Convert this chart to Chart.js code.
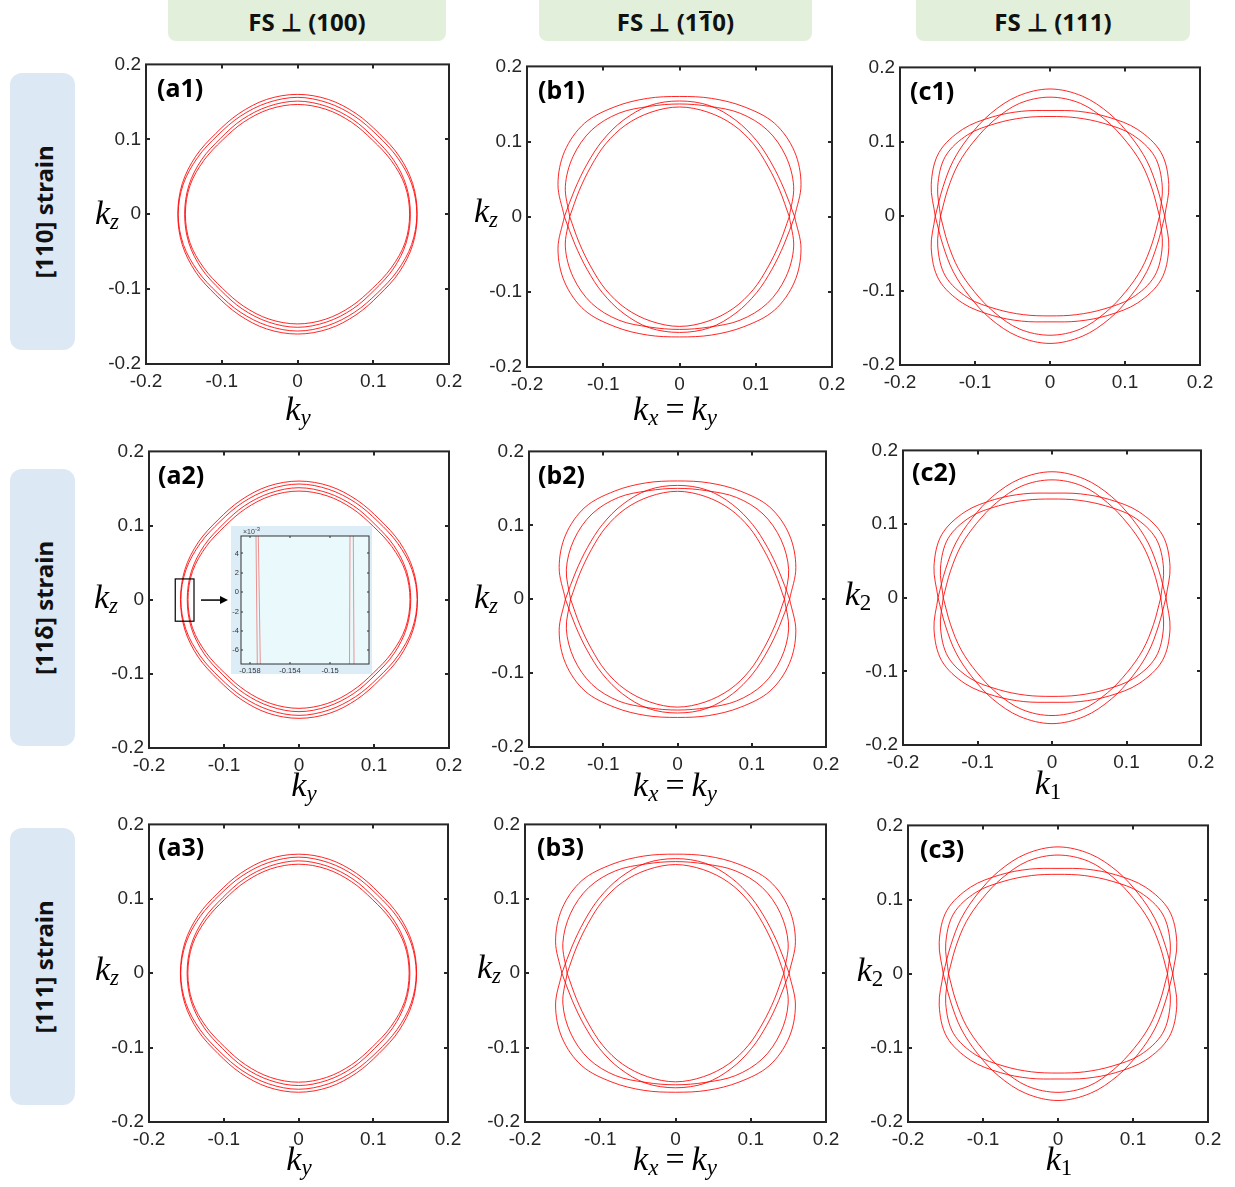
<!DOCTYPE html>
<html>
<head>
<meta charset="utf-8">
<script src="https://cdn.jsdelivr.net/npm/chart.js@4.4.0/dist/chart.umd.min.js"></script>
<style>
  body { margin: 0; background: #fff; }
  #page { position: relative; width: 1235px; height: 1187px; overflow: hidden; font-family: "Noto Sans", sans-serif; }
  canvas { position: absolute; }
  .hdr { position: absolute; top: -10px; height: 51px; padding-top: 11px; box-sizing: border-box; background: #e2efda; border-radius: 8px;
         display: flex; align-items: center; justify-content: center; font-weight: bold; font-size: 24px; color: #111; }
  .bar { display: inline-block; line-height: 0.74; border-top: 2px solid #111; }
  .row { position: absolute; left: 10px; width: 65px; background: #dde8f5; border-radius: 12px; }
  .row span { position: absolute; left: 50%; top: 50%; transform: translate(-50%, -50%) rotate(-90deg); white-space: nowrap;
              font-weight: bold; font-size: 24px; color: #111; }
  .plab { position: absolute; font-weight: bold; font-size: 25px; line-height: 1; color: #000; z-index: 3; }
  .ax { position: absolute; font-family: "Liberation Serif", serif; font-size: 34px; line-height: 1; transform: translate(-50%, -50%);
        white-space: nowrap; color: #000; z-index: 3; }
  .ax sub { font-size: 23px; vertical-align: -5px; font-style: italic; }
  .ax sub.up { font-style: normal; }
  .ax .eq { margin: 0 7px; }
  #inset-exp { position: absolute; left: 243px; top: 526px; font-family: "Liberation Sans", sans-serif; font-size: 7px; color: #444; z-index: 3; }
</style>
</head>
<body>
<div id="page">
  <div class="hdr" style="left:168px;width:278px">FS ⊥ (100)</div>
  <div class="hdr" style="left:539px;width:273px">FS ⊥ (1<span class="bar">1</span>0)</div>
  <div class="hdr" style="left:916px;width:274px">FS ⊥ (111)</div>

  <div class="row" style="top:73px;height:277px"><span>[110] strain</span></div>
  <div class="row" style="top:469px;height:277px"><span>[11δ] strain</span></div>
  <div class="row" style="top:828px;height:277px"><span>[111] strain</span></div>

  <div class="ax" style="left:298px;top:410px"><i>k</i><sub>y</sub></div>
  <div class="ax" style="left:107px;top:214px"><i>k</i><sub>z</sub></div>
  <div class="ax" style="left:675px;top:410px"><i>k</i><sub>x</sub><span class="eq">=</span><i>k</i><sub>y</sub></div>
  <div class="ax" style="left:486px;top:212px"><i>k</i><sub>z</sub></div>

  <div class="ax" style="left:304px;top:786px"><i>k</i><sub>y</sub></div>
  <div class="ax" style="left:106px;top:598px"><i>k</i><sub>z</sub></div>
  <div class="ax" style="left:675px;top:786px"><i>k</i><sub>x</sub><span class="eq">=</span><i>k</i><sub>y</sub></div>
  <div class="ax" style="left:486px;top:598px"><i>k</i><sub>z</sub></div>
  <div class="ax" style="left:1048px;top:784px"><i>k</i><sub class="up">1</sub></div>
  <div class="ax" style="left:858px;top:595px"><i>k</i><sub class="up">2</sub></div>

  <div class="ax" style="left:299px;top:1160px"><i>k</i><sub>y</sub></div>
  <div class="ax" style="left:107px;top:970px"><i>k</i><sub>z</sub></div>
  <div class="ax" style="left:675px;top:1160px"><i>k</i><sub>x</sub><span class="eq">=</span><i>k</i><sub>y</sub></div>
  <div class="ax" style="left:489px;top:968px"><i>k</i><sub>z</sub></div>
  <div class="ax" style="left:1059px;top:1160px"><i>k</i><sub class="up">1</sub></div>
  <div class="ax" style="left:870px;top:971px"><i>k</i><sub class="up">2</sub></div>

  <div id="inset-exp">×10<sup>-3</sup></div>
</div>
<script>
// ---- data ----
const TICKS = [-0.2, -0.1, 0, 0.1, 0.2];
const ANGLES_DEG = [0, 15, 30, 45, 60, 75, 90, 105, 120, 135, 150, 165, 180, 195, 210, 225, 240, 255, 270, 285, 300, 315, 330, 345];

// FS ⊥ (100): contour radius at each angle
const A_R1 = [0.158,0.1575,0.155,0.1525,0.155,0.1585,0.160,0.1585,0.155,0.1525,0.155,0.1575,0.158,0.1575,0.155,0.1525,0.155,0.1585,0.160,0.1585,0.155,0.1525,0.155,0.1575];
const A_R2 = [0.1575,0.156,0.152,0.149,0.151,0.154,0.156,0.154,0.151,0.149,0.152,0.156,0.1575,0.156,0.152,0.149,0.151,0.154,0.156,0.154,0.151,0.149,0.152,0.156];
const A_R3 = [0.149,0.1485,0.146,0.1435,0.146,0.149,0.151,0.149,0.146,0.1435,0.146,0.1485,0.149,0.1485,0.146,0.1435,0.146,0.149,0.151,0.149,0.146,0.1435,0.146,0.1485];
const A_R4 = [0.148,0.147,0.143,0.140,0.142,0.145,0.1465,0.145,0.142,0.140,0.143,0.147,0.148,0.147,0.143,0.140,0.142,0.145,0.1465,0.145,0.142,0.140,0.143,0.147];

// FS ⊥ (1-10)
const B_W1 = [0.151,0.165,0.174,0.176,0.169,0.163,0.160,0.163,0.169,0.176,0.174,0.165,0.151,0.165,0.174,0.176,0.169,0.163,0.160,0.163,0.169,0.176,0.174,0.165];
const B_T1 = [0.151,0.142,0.140,0.143,0.148,0.153,0.154,0.153,0.148,0.143,0.140,0.142,0.151,0.142,0.140,0.143,0.148,0.153,0.154,0.153,0.148,0.143,0.140,0.142];
const B_W2 = [0.144,0.155,0.161,0.163,0.159,0.152,0.150,0.152,0.159,0.163,0.161,0.155,0.144,0.155,0.161,0.163,0.159,0.152,0.150,0.152,0.159,0.163,0.161,0.155];
const B_T2 = [0.144,0.136,0.134,0.137,0.141,0.144,0.146,0.144,0.141,0.137,0.134,0.136,0.144,0.136,0.134,0.137,0.141,0.144,0.146,0.144,0.141,0.137,0.134,0.136];

// FS ⊥ (111)
const C_P1 = [0.153,0.148,0.149,0.152,0.159,0.167,0.171,0.167,0.159,0.152,0.149,0.148,0.153,0.148,0.149,0.152,0.159,0.167,0.171,0.167,0.159,0.152,0.149,0.148];
const C_Q1 = [0.153,0.164,0.171,0.165,0.154,0.146,0.142,0.146,0.154,0.165,0.171,0.164,0.153,0.164,0.171,0.165,0.154,0.146,0.142,0.146,0.154,0.165,0.171,0.164];
const C_P2 = [0.146,0.141,0.141,0.143,0.149,0.157,0.160,0.157,0.149,0.143,0.141,0.141,0.146,0.141,0.141,0.143,0.149,0.157,0.160,0.157,0.149,0.143,0.141,0.141];
const C_Q2 = [0.146,0.155,0.161,0.155,0.144,0.137,0.134,0.137,0.144,0.155,0.161,0.155,0.146,0.155,0.161,0.155,0.144,0.137,0.134,0.137,0.144,0.155,0.161,0.155];

// inset of (a2)
const INSET_XTICKS = [-0.158, -0.154, -0.15];
const INSET_YTICKS = [-0.006, -0.004, -0.002, 0, 0.002, 0.004];
const INSET_X_RANGE = [-0.1589, -0.1461];
const INSET_Y_RANGE = [-0.0074, 0.0058];
const INSET_TOP_X = [-0.15740, -0.15717, -0.14800, -0.14767];
const INSET_BOT_X = [-0.15727, -0.15697, -0.14805, -0.14760];
const ZOOM_BOX = [-0.165, -0.140, -0.029, 0.028]; // x0, x1, y0, y1

// ---- layout ----
const COL_A = [A_R1, A_R2, A_R3, A_R4];
const COL_B = [B_W1, B_T1, B_W2, B_T2];
const COL_C = [C_P1, C_Q1, C_P2, C_Q2];
const PANELS = [
  { curves: COL_A, smooth: true, l: 146, t: 62,  r: 449,  b: 364, lab: '(a1)', lx: 157, ly: 75 },
  { curves: COL_B, l: 527, t: 64,  r: 832,  b: 367, lab: '(b1)', lx: 538, ly: 77 },
  { curves: COL_C, l: 900, t: 65,  r: 1200, b: 365, lab: '(c1)', lx: 910, ly: 78 },
  { curves: COL_A, smooth: true, l: 149, t: 449, r: 449,  b: 748, lab: '(a2)', lx: 158, ly: 462, zoom: true },
  { curves: COL_B, l: 529, t: 449, r: 826,  b: 747, lab: '(b2)', lx: 538, ly: 462 },
  { curves: COL_C, l: 903, t: 448, r: 1201, b: 745, lab: '(c2)', lx: 912, ly: 459 },
  { curves: COL_A, smooth: true, l: 149, t: 822, r: 448,  b: 1122, lab: '(a3)', lx: 158, ly: 834 },
  { curves: COL_B, l: 525, t: 822, r: 826,  b: 1122, lab: '(b3)', lx: 537, ly: 834 },
  { curves: COL_C, l: 908, t: 823, r: 1208, b: 1122, lab: '(c3)', lx: 920, ly: 836 },
];
const PAD = { l: 64, t: 14, r: 26, b: 40 };
const INK = '#262626';
const CURVE_COLOR = 'rgba(255,0,0,0.85)';
const TICK_LEN = 4;

const page = document.getElementById('page');

function fmt(v) {
  const r = Math.round(v * 10) / 10;
  return r === 0 ? '0' : String(r);
}

// polar samples -> points; indices may run past either end of the angle list
function polarPoints(rs, from, to) {
  const n = rs.length;
  const pts = [];
  for (let i = from; i <= to; i++) {
    const k = ((i % n) + n) % n;
    const a = ANGLES_DEG[k] * Math.PI / 180;
    pts.push({ x: rs[k] * Math.cos(a), y: rs[k] * Math.sin(a) });
  }
  return pts;
}

const framePlugin = {
  id: 'frame',
  afterDatasetsDraw(chart, args, opts) {
    const { ctx, chartArea: ca, scales } = chart;
    const len = opts.len || TICK_LEN;
    ctx.save();
    ctx.strokeStyle = opts.color || INK;
    ctx.lineWidth = opts.width || 2;
    ctx.strokeRect(ca.left, ca.top, ca.right - ca.left, ca.bottom - ca.top);
    ctx.beginPath();
    scales.x.ticks.forEach((t) => {
      const px = Math.round(scales.x.getPixelForValue(t.value));
      if (px <= ca.left + 1 || px >= ca.right - 1) return;
      ctx.moveTo(px, ca.bottom); ctx.lineTo(px, ca.bottom - len);
      ctx.moveTo(px, ca.top); ctx.lineTo(px, ca.top + len);
    });
    scales.y.ticks.forEach((t) => {
      const py = Math.round(scales.y.getPixelForValue(t.value));
      if (py <= ca.top + 1 || py >= ca.bottom - 1) return;
      ctx.moveTo(ca.left, py); ctx.lineTo(ca.left + len, py);
      ctx.moveTo(ca.right, py); ctx.lineTo(ca.right - len, py);
    });
    ctx.stroke();
    ctx.restore();
  },
};

const zoomBoxPlugin = {
  id: 'zoomBox',
  afterDatasetsDraw(chart) {
    const { ctx, scales: { x, y } } = chart;
    const x0 = x.getPixelForValue(ZOOM_BOX[0]), x1 = x.getPixelForValue(ZOOM_BOX[1]);
    const y0 = y.getPixelForValue(ZOOM_BOX[2]), y1 = y.getPixelForValue(ZOOM_BOX[3]);
    const yc = (y0 + y1) / 2;
    ctx.save();
    ctx.strokeStyle = '#000';
    ctx.lineWidth = 1.2;
    ctx.strokeRect(x0, y1, x1 - x0, y0 - y1);
    ctx.beginPath();
    ctx.moveTo(x1 + 7, yc); ctx.lineTo(x1 + 28, yc);
    ctx.lineWidth = 1.5;
    ctx.stroke();
    ctx.beginPath();
    ctx.moveTo(x1 + 34, yc); ctx.lineTo(x1 + 26, yc - 4); ctx.lineTo(x1 + 26, yc + 4); ctx.closePath();
    ctx.fillStyle = '#000';
    ctx.fill();
    ctx.restore();
  },
};

function axisOpts(isX) {
  return {
    type: 'linear',
    min: -0.2,
    max: 0.2,
    afterBuildTicks: (s) => { s.ticks = TICKS.map((v) => ({ value: v })); },
    afterFit: (s) => { if (isX) s.height = PAD.b; else s.width = PAD.l; },
    grid: { display: false, drawTicks: false },
    border: { display: false },
    ticks: {
      autoSkip: false, maxRotation: 0, padding: isX ? 6 : 5,
      color: INK, font: { family: 'Liberation Sans', size: 19 },
      callback: fmt,
    },
  };
}

function curveDataset(data, hideEnds) {
  const ds = { data, showLine: true, pointRadius: 0, borderWidth: 1, borderColor: CURVE_COLOR, tension: 0.34, fill: false };
  if (hideEnds) {
    // the first and last segments only exist to give the loop's join proper neighbours
    const last = data.length - 1;
    ds.segment = { borderColor: (c) => (c.p0DataIndex === 0 || c.p1DataIndex === last ? 'rgba(0,0,0,0)' : undefined) };
  }
  return ds;
}

function makePanel(p) {
  const w = p.r - p.l + PAD.l + PAD.r;
  const h = p.b - p.t + PAD.t + PAD.b;
  const canvas = document.createElement('canvas');
  canvas.width = w; canvas.height = h;
  canvas.style.left = (p.l - PAD.l) + 'px';
  canvas.style.top = (p.t - PAD.t) + 'px';
  canvas.style.width = w + 'px';
  canvas.style.height = h + 'px';
  page.appendChild(canvas);

  const datasets = [];
  p.curves.forEach((rs) => {
    if (p.smooth) {
      datasets.push(curveDataset(polarPoints(rs, -1, rs.length + 1), true));
    } else {
      // the two halves meet at the band-touching points on the horizontal axis
      datasets.push(curveDataset(polarPoints(rs, 0, 12), false));
      datasets.push(curveDataset(polarPoints(rs, 12, 24), false));
    }
  });

  new Chart(canvas, {
    type: 'scatter',
    data: { datasets },
    options: {
      responsive: false, animation: false, events: [],
      layout: { padding: { top: PAD.t, right: PAD.r, left: 0, bottom: 0 } },
      plugins: { legend: { display: false }, tooltip: { enabled: false }, frame: {} },
      scales: { x: axisOpts(true), y: axisOpts(false) },
    },
    plugins: p.zoom ? [framePlugin, zoomBoxPlugin] : [framePlugin],
  });

  const lab = document.createElement('div');
  lab.className = 'plab';
  lab.textContent = p.lab;
  lab.style.left = p.lx + 'px';
  lab.style.top = p.ly + 'px';
  page.appendChild(lab);
}

PANELS.forEach(makePanel);

// inset in (a2)
(function makeInset() {
  const box = { left: 231, top: 526, w: 141, h: 148 };
  const pad = { l: 10, t: 10, r: 3, b: 10 };
  const canvas = document.createElement('canvas');
  canvas.width = box.w; canvas.height = box.h;
  Object.assign(canvas.style, { left: box.left + 'px', top: box.top + 'px', width: box.w + 'px', height: box.h + 'px', background: '#dcedf8', zIndex: 2 });
  page.appendChild(canvas);

  const datasets = INSET_TOP_X.map((xt, i) => ({
    data: [{ x: xt, y: INSET_Y_RANGE[1] }, { x: INSET_BOT_X[i], y: INSET_Y_RANGE[0] }],
    showLine: true, pointRadius: 0, borderWidth: 1, borderColor: 'rgba(235,110,110,0.75)',
  }));

  const small = { family: 'Liberation Sans', size: 7.5 };
  new Chart(canvas, {
    type: 'scatter',
    data: { datasets },
    options: {
      responsive: false, animation: false, events: [],
      layout: { padding: { top: pad.t, right: pad.r, left: 0, bottom: 0 } },
      plugins: { legend: { display: false }, tooltip: { enabled: false }, frame: { width: 1, len: 2, color: '#333' } },
      scales: {
        x: {
          type: 'linear', min: INSET_X_RANGE[0], max: INSET_X_RANGE[1],
          afterBuildTicks: (s) => { s.ticks = INSET_XTICKS.map((v) => ({ value: v })); },
          afterFit: (s) => { s.height = pad.b; },
          grid: { display: false, drawTicks: false }, border: { display: false },
          ticks: { autoSkip: false, maxRotation: 0, padding: 2, color: '#333', font: small, callback: (v) => String(v) },
        },
        y: {
          type: 'linear', min: INSET_Y_RANGE[0], max: INSET_Y_RANGE[1],
          afterBuildTicks: (s) => { s.ticks = INSET_YTICKS.map((v) => ({ value: v })); },
          afterFit: (s) => { s.width = pad.l; },
          grid: { display: false, drawTicks: false }, border: { display: false },
          ticks: { autoSkip: false, padding: 2, color: '#333', font: small, callback: (v) => String(Math.round(v * 1000)) },
        },
      },
    },
    plugins: [{
      id: 'insetBg',
      beforeDatasetsDraw(chart) {
        const { ctx, chartArea: ca } = chart;
        ctx.save();
        ctx.fillStyle = '#eafafc';
        ctx.fillRect(ca.left, ca.top, ca.right - ca.left, ca.bottom - ca.top);
        ctx.restore();
      },
    }, framePlugin],
  });
})();
</script>
</body>
</html>
